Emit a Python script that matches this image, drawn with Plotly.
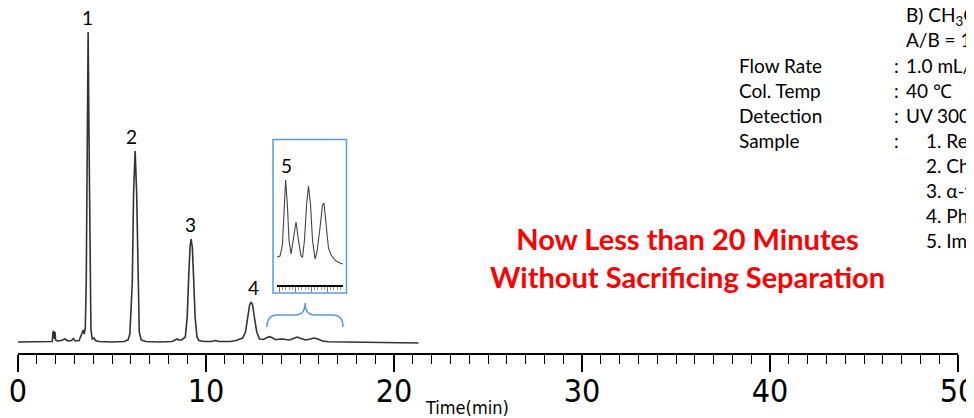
import plotly.graph_objects as go

# ---- main chromatogram (time in min, signal in arbitrary units) ----
time_min = [0.0, 1.75, 1.82, 1.86, 1.9, 1.93, 1.97, 2.0, 2.1, 2.3, 2.5, 2.65, 2.85, 2.95, 3.05,
            3.25, 3.4, 3.47, 3.52, 3.58, 3.63, 3.68, 3.73, 3.78, 3.83, 3.88, 3.95, 4.05, 4.12,
            4.3, 5.0, 5.65, 5.75, 5.85, 5.95, 6.08, 6.15, 6.23, 6.31, 6.38, 6.45, 6.55, 6.8,
            7.5, 8.2, 8.4, 8.47, 8.55, 8.7, 8.9, 9.0, 9.08, 9.15, 9.21, 9.27, 9.34, 9.42, 9.52,
            9.62, 9.9, 10.3, 10.5, 10.7, 11.3, 11.6, 11.8, 11.95, 12.1, 12.22, 12.32, 12.4,
            12.48, 12.58, 12.7, 12.85, 13.05, 13.25, 13.38, 13.5, 13.7, 13.85, 14.05, 14.25,
            14.45, 14.65, 14.85, 15.05, 15.3, 15.55, 15.75, 15.95, 16.2, 16.5, 17.5, 19.0, 21.3]
signal = [0, 0, 0.5, 10, 11, 3, 10, 2, 1, 1.5, 3, 1, 1.5, 3.5, 1,
          1.5, 8, 12, 8, 14, 60, 200, 310, 200, 60, 12, 3, 4, 1.5,
          0.5, 0, 0.5, 1.5, 2, 8, 60, 150, 191, 150, 60, 10, 2, 0.5,
          0, 0.5, 2.5, 3, 2, 2, 5, 25, 65, 95, 103, 95, 65, 25, 5,
          1.5, 0.5, 0.5, 1.5, 0.5, 0.5, 1.5, 3, 4, 10, 24, 37, 40,
          37, 24, 10, 3, 2.5, 4.5, 5.3, 4.5, 2.3, 2.7, 3, 2.5,
          2, 3.5, 5, 3.5, 2, 3, 4, 3, 1, 0.3, 0, -0.3, -1]

# ---- peak labels ----
peak_names = ["1", "2", "3", "4"]
peak_times = [3.70, 6.05, 9.17, 12.5]
peak_heights = [310, 191, 103, 40]

# ---- inset: magnified impurity region (peak 5) ----
inset_time = [12.84, 13.03, 13.18, 13.28, 13.38, 13.49, 13.59, 13.72, 13.84, 14.03, 14.18,
              14.34, 14.44, 14.56, 14.69, 14.81, 14.94, 15.06, 15.22, 15.34, 15.53, 15.69,
              15.78, 15.9, 16.06, 16.22, 16.53, 16.78, 16.97]
inset_signal = [28, 29, 40, 80, 105, 80, 45, 31, 42, 63, 45,
                29, 28, 45, 80, 99, 80, 45, 26, 33, 57, 80,
                82, 65, 37, 30, 24, 22, 21]

# ---- conditions text ----
cond_labels = ["Flow Rate", "Col. Temp", "Detection", "Sample"]
cond_values = ["1.0 mL/min", "40 \u2103", "UV 300 nm", ""]
mobile_lines = ["B) CH<sub>3</sub>CN", "A/B = 10/90"]
sample_lines = ["1. Retinol", "2. Cholecalciferol", "3. \u03b1-tocopherol",
                "4. Phylloquinone", "5. Impurities"]

# The page body keeps an 8 px margin, so the figure is drawn 8 px in from the
# window's top-left corner.
OFF = 8
W, H = 974 - OFF, 418 - OFF
AX_L, AX_R, AX_T, AX_B = 18, 958, OFF, 353        # plot area in window pixels
L, R, T, B = AX_L - OFF, W - (AX_R - OFF), AX_T - OFF, H - (AX_B - OFF)
PW, PH = AX_R - AX_L, AX_B - AX_T


def px(x):
    return (x - AX_L) / PW


def py(y):
    return (AX_B - y) / PH


BLUE = "#5B9BD5"
TXT = "Lato, 'Noto Sans', sans-serif"
NARROW = "'DejaVu Sans Condensed', 'Liberation Sans Narrow', sans-serif"
FS = 19

fig = go.Figure()
fig.add_trace(go.Scatter(x=time_min, y=signal, mode="lines",
                         line=dict(color="#333333", width=1.6),
                         hoverinfo="skip", showlegend=False))
fig.add_trace(go.Scatter(x=inset_time, y=inset_signal, mode="lines", xaxis="x2", yaxis="y2",
                         line=dict(color="#444444", width=1.1),
                         hoverinfo="skip", showlegend=False))

annotations = []


def note(x, y, text, size=FS, xanchor="left", color="black", family=TXT, align="left"):
    annotations.append(dict(x=px(x), y=py(y), xref="paper", yref="paper", text=text,
                            showarrow=False, xanchor=xanchor, yanchor="middle", align=align,
                            font=dict(family=family, size=size, color=color)))


for n, t, h in zip(peak_names, peak_times, peak_heights):
    annotations.append(dict(x=t, y=h, xref="x", yref="y", text=n, showarrow=False,
                            xanchor="center", yanchor="bottom", yshift=1,
                            font=dict(family=TXT, size=FS, color="black")))
note(286, 165, "5", xanchor="center")

for i, (lab, val) in enumerate(zip(cond_labels, cond_values)):
    y = 65 + 25 * i
    note(737, y, lab)
    note(892, y, ":")
    if val:
        note(904, y, val)
for i, s in enumerate(mobile_lines):
    note(904, 16 + 24 * i, s)
for i, s in enumerate(sample_lines):
    note(924, 140 + 25 * i, s)

note(687, 257, "<b>Now Less than 20 Minutes</b><br><b>Without Sacrificing Separation</b>",
     size=29, xanchor="center", color="#FF0000", align="center")
note(467, 407, "Time(min)", size=18, xanchor="center", family=NARROW)

shapes = [
    dict(type="rect", xref="paper", yref="paper", x0=px(273), x1=px(346.5),
         y0=py(293), y1=py(139.5), line=dict(color=BLUE, width=1.5)),
    dict(type="path", xref="x", yref="y",
         path="M 13.24,15 Q 13.24,27 13.8,27 L 14.75,27 Q 15.27,27 15.27,39 "
              "Q 15.27,27 15.79,27 L 16.73,27 Q 17.29,27 17.29,15",
         line=dict(color=BLUE, width=1.5)),
]

fig.update_layout(
    width=W, height=H,
    margin=dict(l=L, r=R, t=T, b=B, pad=0, autoexpand=False),
    paper_bgcolor="white", plot_bgcolor="white",
    showlegend=False,
    annotations=annotations,
    shapes=shapes,
    xaxis=dict(range=[0, 50], showgrid=False, zeroline=False, automargin=False,
               showline=True, linecolor="black", linewidth=2,
               ticks="outside", ticklen=17, tickwidth=1.5, tickcolor="black",
               dtick=10, tick0=0, ticklabeloverflow="allow", ticklabelstandoff=-8,
               tickfont=dict(family=NARROW, size=32, color="black"),
               minor=dict(dtick=1, ticks="outside", ticklen=9, tickwidth=1.2,
                          tickcolor="black", showgrid=False)),
    yaxis=dict(range=[-11, 334], visible=False, fixedrange=True, automargin=False),
    xaxis2=dict(domain=[px(277), px(343)], anchor="y2", range=[12.84, 16.97],
                showgrid=False, zeroline=False, showline=True, linecolor="black",
                linewidth=2, ticks="outside", ticklen=5, tickwidth=1, tickcolor="#777777",
                dtick=1, tick0=13, showticklabels=False, automargin=False,
                minor=dict(dtick=0.2, ticks="outside", ticklen=3, tickwidth=0.8,
                           tickcolor="#999999")),
    yaxis2=dict(domain=[py(285), py(140)], anchor="x2", range=[0, 145], visible=False),
)

fig.write_html("out.html")
